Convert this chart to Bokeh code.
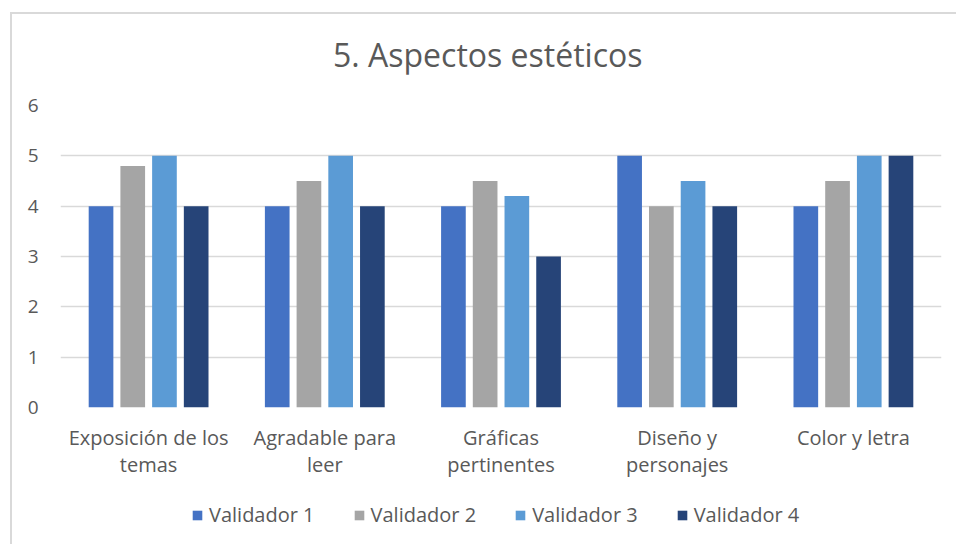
from bokeh.plotting import figure
from bokeh.models import ColumnDataSource, Legend, LegendItem, FactorRange, Range1d, Div
from bokeh.layouts import column
from bokeh.transform import dodge
from bokeh.embed import file_html
from bokeh.resources import INLINE

title_text = "5. Aspectos estéticos"
categories = ["Exposición de los\ntemas", "Agradable para\nleer", "Gráficas\npertinentes", "Diseño y\npersonajes", "Color y letra"]
validador_1 = [4, 4, 4, 5, 4]
validador_2 = [4.8, 4.5, 4.5, 4, 4.5]
validador_3 = [5, 5, 4.2, 4.5, 5]
validador_4 = [4, 4, 3, 4, 5]
series_names = ["Validador 1", "Validador 2", "Validador 3", "Validador 4"]
colors = ["#4472C4", "#A5A5A5", "#5B9BD5", "#264478"]
y_ticks = [0, 1, 2, 3, 4, 5, 6]

src = ColumnDataSource(dict(cat=categories, v1=validador_1, v2=validador_2, v3=validador_3, v4=validador_4))

FONT = "Open Sans"
TXT = "#595959"

title_div = Div(
    text=('<div style="padding:19px 0 0 321px; font-family:\'Open Sans\'; font-size:32px; '
          'color:#595959; white-space:nowrap; line-height:1.35; margin:0">' + title_text + '</div>'),
    width=944, height=60, margin=0)

p = figure(x_range=FactorRange(*categories), y_range=(0, 6), width=944, height=411,
           output_backend="svg", toolbar_location=None,
           min_border_left=48, min_border_right=15, min_border_top=31, min_border_bottom=78)
p.title = None

offsets = [-0.27, -0.09, 0.09, 0.27]
keys = ["v1", "v2", "v3", "v4"]
for k, off, c in zip(keys, offsets, colors):
    p.vbar(x=dodge("cat", off, range=p.x_range), top=k, width=0.14, source=src,
           fill_color=c, line_color=None)

p.yaxis.ticker = y_ticks
p.xgrid.grid_line_color = None
p.ygrid.grid_line_color = "#D9D9D9"
p.ygrid.grid_line_width = 1.5
p.outline_line_color = None

for ax in (p.xaxis[0], p.yaxis[0]):
    ax.axis_line_color = None
    ax.major_tick_line_color = None
    ax.minor_tick_line_color = None
    ax.major_tick_out = 0
    ax.major_tick_in = 0
    ax.major_label_text_font = FONT
    ax.major_label_text_color = TXT
p.yaxis.major_label_text_font_size = "19px"
p.xaxis.major_label_text_font_size = "20px"
p.xaxis.major_label_text_line_height = 1.0
p.yaxis.major_label_standoff = 22
p.xaxis.major_label_standoff = 16

# legend strip (hidden swatch renderers)
p2 = figure(width=944, height=59, output_backend="svg", toolbar_location=None,
            x_axis_type=None, y_axis_type=None, min_border=0,
            x_range=Range1d(0, 1), y_range=Range1d(0, 1))
p2.title = None
p2.outline_line_color = None
p2.xgrid.grid_line_color = None
p2.ygrid.grid_line_color = None
items = []
for n, c in zip(series_names, colors):
    r = p2.vbar(x=[0.5], top=[1], width=0.5, fill_color=c, line_color=None)
    r.visible = False
    items.append(LegendItem(label=n, renderers=[r]))
legend = Legend(items=items, orientation="horizontal", location=(131, 16),
                label_text_font=FONT, label_text_font_size="20px", label_text_color=TXT,
                glyph_width=12, glyph_height=12, label_standoff=6, spacing=38, padding=0,
                margin=0, border_line_color=None, background_fill_alpha=0)
p2.add_layout(legend, "center")

layout = column(title_div, p, p2, spacing=0, margin=(12, 0, 0, 10),
                styles={"border-left": "2px solid #D9D9D9", "border-top": "2px solid #D9D9D9"})

open("out.html", "w").write(file_html(layout, INLINE))
